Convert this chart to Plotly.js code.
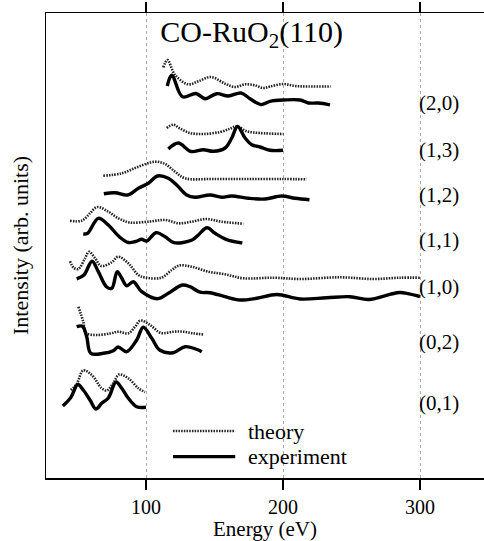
<!DOCTYPE html>
<html><head><meta charset="utf-8">
<script src="https://cdn.plot.ly/plotly-3.0.1.min.js"></script>
<style>html,body{margin:0;padding:0;background:#fff}#chart{width:484px;height:541px}</style>
</head><body><div id="chart"></div>
<script>
// Beam labels
const beams = ['(2,0)', '(1,3)', '(1,2)', '(1,1)', '(1,0)', '(0,2)', '(0,1)'];
const seriesNames = ['theory', 'experiment'];

// (2,0)
const th20E = [112.6,115.7,121.2,130.9,138.2,147.4,157.7,165.0,172.3,179.6,185.4,190.5,200.2,208.8,218.5,234.8];
const th20I = [410.5,418,403,393.7,396.7,401,394.3,391,393.7,392.7,390,391.5,394,392,391.5,391.5];
const ex20E = [115.5,118.8,126.6,136.5,143.1,151.6,160.1,169.3,175.9,183.9,190.5,200.7,212.4,218.5,225.8,234.3];
const ex20I = [392,402.8,381.2,384.5,379.3,384.3,382,385,379.3,373.4,376.7,378,378,375,375,373.2];

// (1,3)
const th13E = [115.1,119.9,124.8,132.1,141.8,154.0,161.3,166.2,173.5,183.2,200.4];
const th13I = [350,353.3,349.5,345,344,346,349.3,351.7,346.7,345,344];
const ex13E = [116.3,123.6,132.8,141.8,149.1,157.7,162.6,166.8,172.3,177.2,183.2,190.5,200.0];
const ex13I = [329,335,326.5,328.3,326.7,330,340,351.5,340,333.3,331,327.7,327.7];

// (1,2)
const th12E = [68.8,82.3,94.4,106.6,113.9,121.2,128.5,148.0,172.3,199.1,217.3];
const th12I = [302.3,304.7,311.3,316.3,314,306.3,299.7,299,299,299,298.7];
const ex12E = [69.2,77.4,86.5,94.4,101.7,108.4,116.3,122.4,129.7,135.8,146.7,155.3,162.6,174.7,186.9,199.1,208.8,219.3];
const ex12I = [284.2,285.3,283,289.7,294.7,302,299.7,293,283,280.7,283,280.7,282,279.7,279,282,279.7,278.3];

// (1,1)
const th11E = [44.5,53.1,59.1,64.4,72.5,79.8,88.3,102.9,113.9,124.1,133.4,143.8,155.3,171.0];
const th11I = [257.3,257.3,264.7,271,266.3,259.7,255.5,256.5,258,254.7,256.3,259,256.3,254.3];
const ex11E = [54.2,57.4,65.2,72.5,80.3,87.1,92.3,96.9,100.5,107.3,113.9,120.4,133.6,138.2,144.5,150.4,158.4,170.3];
const ex11I = [244,244.7,259.7,253,241.5,235.5,236.5,238.7,237,245.3,241.3,235.3,238,243,250.2,244.7,238.7,235];

// (1,0)
const th10E = [44.5,47.4,50.6,55.5,58.4,62.8,67.2,75.0,79.6,87.1,94.4,99.3,110.9,118.8,124.1,133.4,145.5,157.7,171.0,193.0,212.4,241.6,265.9,285.4,300.0];
const th10I = [216.7,210,209,219.7,226.3,219.7,212,215.7,221.3,214.7,203,200.5,200.2,208,212.5,211.3,206.3,203.7,199.7,200.3,199,200.7,199,200.3,200.3];
const ex10E = [49.4,54.7,60.6,65.2,71.3,75.0,79.0,82.3,85.9,90.7,96.9,108.4,116.3,126.6,132.1,139.4,146.7,157.7,168.6,180.8,195.4,212.4,231.9,248.9,262.8,278.1,285.4,290.3,300.0];
const ex10I = [199.2,203,216.8,206.3,191,189.7,206.3,199.7,192.2,196.3,186.3,179.3,184.7,193,191.3,185.8,185.3,181.3,178,179.7,183.5,179,180.3,181.3,178.5,183.7,185.5,184.7,181.5];

// (0,2)
const th02E = [50.6,54.2,56.2,64.0,73.7,79.8,87.1,92.0,96.0,102.9,110.9,119.9,127.2,134.5,142.0];
const th02I = [171.3,156.3,145,143,144.5,146.3,144.7,151.3,157.5,153,145,146.3,146.3,144.7,143.5];
const ex02E = [49.4,53.6,56.7,59.7,68.8,76.1,79.6,85.9,93.2,98.0,104.2,110.2,119.9,128.5,138.2,140.7];
const ex02I = [151.3,151.7,141.3,124.7,124.7,127.3,131,126.3,138,150.7,139.7,127.7,125.3,131.3,128,126.3];

// (0,1)
const th01E = [45.1,49.4,54.2,60.4,67.5,71.3,76.1,80.3,87.1,94.4,99.3];
const th01I = [88,94,107.7,103,90,87.5,94.7,103.5,99.7,89.7,86];
const ex01E = [39.3,45.1,50.2,54.2,59.1,63.4,67.7,72.5,78.1,82.3,87.1,93.2,100.0];
const ex01I = [72,80.5,93.5,88,78,69,74.7,80,96,89.7,79.7,71.3,70.7];

const theoryE = [th20E, th13E, th12E, th11E, th10E, th02E, th01E];
const theoryI = [th20I, th13I, th12I, th11I, th10I, th02I, th01I];
const exptE = [ex20E, ex13E, ex12E, ex11E, ex10E, ex02E, ex01E];
const exptI = [ex20I, ex13I, ex12I, ex11I, ex10I, ex02I, ex01I];

const FONT = "'Liberation Serif', 'DejaVu Serif', serif";
const DOT = {color: '#222', width: 2.6, dash: '1.5px,1.2px'};
const traces = [];
beams.forEach((b, i) => {
  traces.push({x: theoryE[i], y: theoryI[i], type: 'scatter', mode: 'lines', name: seriesNames[0] + ' ' + b,
    showlegend: false, hoverinfo: 'skip',
    line: Object.assign({shape: 'spline', smoothing: 1}, DOT)});
  traces.push({x: exptE[i], y: exptI[i], type: 'scatter', mode: 'lines', name: seriesNames[1] + ' ' + b,
    showlegend: false, hoverinfo: 'skip',
    line: {color: '#000', width: 3.4, shape: 'spline', smoothing: 1}});
});

const labelY = [375, 328, 283, 238, 191, 136, 75];
const annotations = beams.map((b, i) => ({
  x: 314, y: labelY[i], xref: 'x', yref: 'y', text: b, showarrow: false,
  xanchor: 'center', yanchor: 'middle', font: {family: FONT, size: 21, color: '#000'}
}));
// legend texts
annotations.push({x: 0.456, y: 0.100, xref: 'paper', yref: 'paper', text: seriesNames[0], showarrow: false,
  xanchor: 'left', yanchor: 'middle', font: {family: FONT, size: 22, color: '#000'}});
annotations.push({x: 0.456, y: 0.046, xref: 'paper', yref: 'paper', text: seriesNames[1], showarrow: false,
  xanchor: 'left', yanchor: 'middle', font: {family: FONT, size: 22, color: '#000'}});

const shapes = [
  {type: 'line', xref: 'paper', yref: 'paper', x0: 0.290, x1: 0.432, y0: 0.101, y1: 0.101, line: DOT},
  {type: 'line', xref: 'paper', yref: 'paper', x0: 0.290, x1: 0.432, y0: 0.046, y1: 0.046,
   line: {color: '#000', width: 3.4}}
];

const layout = {
  width: 484, height: 541,
  margin: {l: 46, r: 0, t: 13, b: 63, pad: 0},
  paper_bgcolor: '#fff', plot_bgcolor: '#fff',
  font: {family: FONT, size: 20, color: '#000'},
  title: {text: 'CO-RuO<sub>2</sub>(110)', x: 0.52, xanchor: 'center', y: 0.942, yanchor: 'middle',
          yref: 'container', font: {family: FONT, size: 30, color: '#000'}},
  xaxis: {
    range: [27.0, 346.7], tickvals: [100, 200, 300], ticktext: ['100', '200', '300'],
    ticks: 'outside', ticklen: 10, tickwidth: 1.5, tickcolor: '#000',
    showline: true, linecolor: '#000', linewidth: 1.5, mirror: 'ticks',
    showgrid: true, gridcolor: '#aaa', gridwidth: 1, griddash: 'dot',
    zeroline: false, tickfont: {family: FONT, size: 20},
    title: {text: 'Energy (eV)', font: {family: FONT, size: 21}, standoff: 6}
  },
  yaxis: {
    range: [0, 465], showticklabels: false, ticks: '',
    showline: true, linecolor: '#000', linewidth: 1.5, mirror: false,
    showgrid: false, zeroline: false,
    title: {text: 'Intensity (arb. units)', font: {family: FONT, size: 22}, standoff: 10}
  },
  annotations: annotations,
  shapes: shapes,
  showlegend: false
};

Plotly.newPlot('chart', traces, layout, {displayModeBar: false, staticPlot: true});
</script>
</body></html>
